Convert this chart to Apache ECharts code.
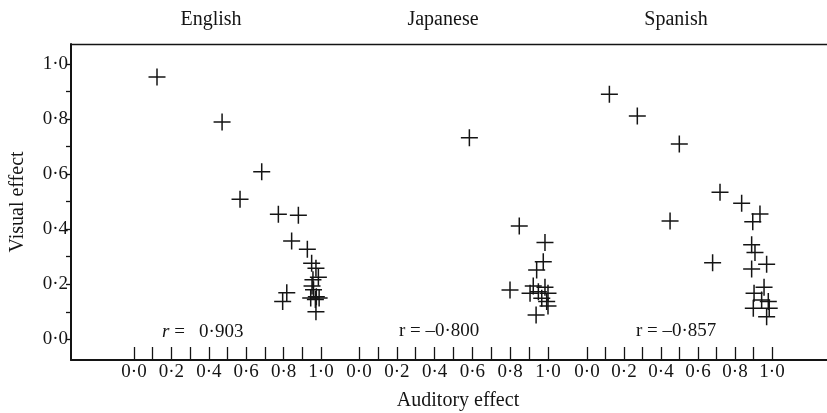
<!DOCTYPE html>
<html>
<head>
<meta charset="utf-8">
<style>
  html, body { margin: 0; padding: 0; background: #fff; }
  #chart { width: 827px; height: 413px; }
</style>
<script src="https://cdn.jsdelivr.net/npm/echarts@6/dist/echarts.min.js"></script>
</head>
<body>
<div id="chart"></div>
<script>
// Per-language panels: auditory effect (x) against visual effect (y)
const languages = ['English', 'Japanese', 'Spanish'];

const englishAuditory = [0.123, 0.471, 0.683, 0.567, 0.772, 0.879, 0.843, 0.927, 0.95, 0.973, 0.986, 0.957, 0.952, 0.817, 0.795, 0.96, 0.945, 0.97, 0.99, 0.975, 0.973];
const englishVisual   = [0.953, 0.789, 0.609, 0.509, 0.454, 0.451, 0.357, 0.327, 0.276, 0.258, 0.225, 0.216, 0.194, 0.169, 0.137, 0.18, 0.15, 0.145, 0.15, 0.155, 0.10];

const japaneseAuditory = [0.584, 0.848, 0.984, 0.975, 0.94, 0.799, 0.922, 0.984, 0.949, 1.0, 0.905, 0.967, 1.0, 0.937, 0.993];
const japaneseVisual   = [0.732, 0.412, 0.352, 0.282, 0.252, 0.179, 0.194, 0.189, 0.173, 0.167, 0.167, 0.149, 0.121, 0.088, 0.137];

const spanishAuditory = [0.121, 0.272, 0.499, 0.719, 0.836, 0.935, 0.896, 0.449, 0.89, 0.908, 0.679, 0.971, 0.89, 0.957, 0.903, 0.944, 0.98, 0.899, 0.985, 0.971];
const spanishVisual   = [0.890, 0.811, 0.709, 0.534, 0.494, 0.455, 0.427, 0.430, 0.343, 0.315, 0.278, 0.273, 0.255, 0.189, 0.167, 0.143, 0.137, 0.113, 0.113, 0.082];

const correlations = ['0·903', '–0·800', '–0·857'];
const xTickValues = [0, 0.2, 0.4, 0.6, 0.8, 1.0];
const yTickValues = [0, 0.2, 0.4, 0.6, 0.8, 1.0];

const INK = '#141414';
const FONT = 'Liberation Serif';
const dotted = v => v.toFixed(1).replace('.', '·');
const zip = (xs, ys) => xs.map((x, i) => [x, ys[i]]);

const panelX = [
  { left: 134, width: 187 },
  { left: 359, width: 189 },
  { left: 587, width: 185 }
];
// y = 0 sits 20.7px above the bottom frame line, y = 1 at 64px from the top
const plotTop = 64, plotBottom = 413 - 339.3, frameBottom = 53;
const panelYMin = -20.7 / (339.3 - 64);

const grids = [
  // frame
  { left: 71, right: 0, top: 44, bottom: frameBottom },
  // tick grid for the shared visual-effect scale
  { left: 71, right: 0, top: plotTop, bottom: plotBottom }
].concat(panelX.map(p => ({ left: p.left, width: p.width, top: plotTop, bottom: frameBottom })));

const xAxes = [
  { gridIndex: 0, type: 'value', min: 0, max: 1, position: 'bottom',
    axisLine: { show: true, onZero: false, lineStyle: { color: INK, width: 2 } },
    axisTick: { show: false }, axisLabel: { show: false }, splitLine: { show: false } },
  { gridIndex: 0, type: 'value', min: 0, max: 1, position: 'top',
    axisLine: { show: true, onZero: false, lineStyle: { color: INK, width: 1.4 } },
    axisTick: { show: false }, axisLabel: { show: false }, splitLine: { show: false } },
  { gridIndex: 1, type: 'value', min: 0, max: 1, show: false }
].concat(panelX.map((p, i) => ({
  gridIndex: i + 2, type: 'value', min: 0, max: 1, interval: 0.1,
  position: 'bottom',
  axisLine: { show: false, onZero: false },
  axisTick: { show: true, inside: true, length: 13, lineStyle: { color: INK, width: 1.3 } },
  axisLabel: {
    show: true, margin: 3, color: INK, fontFamily: FONT, fontSize: 19,
    formatter: v => xTickValues.some(t => Math.abs(t - v) < 1e-6) ? dotted(v) : ''
  },
  splitLine: { show: false }
})));

const yAxes = [
  { gridIndex: 0, type: 'value', min: 0, max: 1, position: 'left',
    axisLine: { show: true, onZero: false, lineStyle: { color: INK, width: 2 } },
    axisTick: { show: false }, axisLabel: { show: false }, splitLine: { show: false },
    name: 'Visual effect', nameLocation: 'middle', nameGap: 43,
    nameTextStyle: { color: INK, fontFamily: FONT, fontSize: 20 } },
  { gridIndex: 1, type: 'value', min: 0, max: 1, interval: 0.1, position: 'left',
    axisLine: { show: false, onZero: false },
    axisTick: { show: true, inside: false, length: 5, lineStyle: { color: INK, width: 1.3 } },
    axisLabel: {
      show: true, margin: 3, color: INK, fontFamily: FONT, fontSize: 19,
      formatter: v => yTickValues.some(t => Math.abs(t - v) < 1e-6) ? dotted(v) : ''
    },
    splitLine: { show: false } }
].concat(panelX.map((p, i) => ({ gridIndex: i + 2, type: 'value', min: panelYMin, max: 1, show: false })));

const plusSymbol = 'path://M8,0L8,16M0,8L16,8';
const panelData = [
  zip(englishAuditory, englishVisual),
  zip(japaneseAuditory, japaneseVisual),
  zip(spanishAuditory, spanishVisual)
];
const series = languages.map((name, i) => ({
  name, type: 'scatter', xAxisIndex: i + 3, yAxisIndex: i + 2,
  data: panelData[i], symbol: plusSymbol, symbolSize: 17, clip: false,
  itemStyle: { color: 'none', borderColor: INK, borderWidth: 1.5, opacity: 1 },
  emphasis: { disabled: true }
}));

const titleX = [211, 443, 676];
const rLabelX = [162, 399, 636];
const textStyle = { fill: INK, fontFamily: FONT, fontSize: 20 };
const graphic = [];
languages.forEach((name, i) => {
  graphic.push({ type: 'text', x: titleX[i], y: 20,
    style: Object.assign({ text: name, align: 'center', verticalAlign: 'middle' }, textStyle) });
});
graphic.push({ type: 'text', x: rLabelX[0], y: 332,
  style: { text: '{i|r} =   ' + correlations[0], fill: INK, fontFamily: FONT, fontSize: 19,
    verticalAlign: 'middle', rich: { i: { fontStyle: 'italic', fontFamily: FONT, fontSize: 19, fill: INK } } } });
[1, 2].forEach(i => {
  graphic.push({ type: 'text', x: rLabelX[i], y: 331,
    style: { text: 'r = ' + correlations[i], fill: INK, fontFamily: FONT, fontSize: 19, verticalAlign: 'middle' } });
});
graphic.push({ type: 'text', x: 458, y: 401,
  style: Object.assign({ text: 'Auditory effect', align: 'center', verticalAlign: 'middle' }, textStyle) });

const chart = echarts.init(document.getElementById('chart'), null, { renderer: 'canvas' });
chart.setOption({
  animation: false,
  backgroundColor: '#fff',
  grid: grids,
  xAxis: xAxes,
  yAxis: yAxes,
  series,
  graphic
});
</script>
</body>
</html>
